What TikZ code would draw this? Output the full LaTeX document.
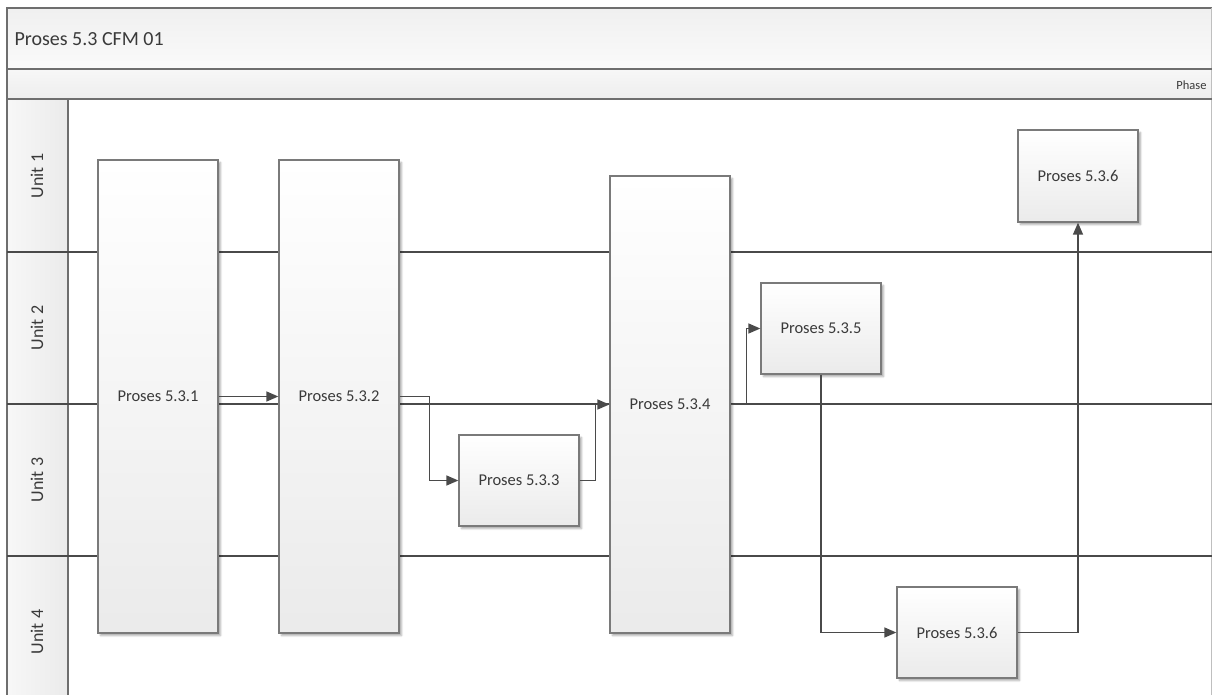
\documentclass[tikz,border=0pt]{standalone}
\usepackage{fontspec}
\setmainfont{Carlito}
\usetikzlibrary{arrows.meta,shadows.blur}
\definecolor{linec}{HTML}{4A4A4A}
\definecolor{framec}{HTML}{6E6E6E}
\definecolor{boxb}{HTML}{7A7A7A}
\definecolor{txt}{HTML}{3A3A3A}
\tikzset{
  procbox/.style={draw=boxb, line width=1.3pt, shading=axis, top color=white, bottom color=black!8,
    minimum width=120pt, inner sep=0pt, font=\fontsize{16.5}{18}\selectfont, text=txt,
    blur shadow={shadow xshift=2.5pt, shadow yshift=-2.5pt, shadow blur steps=4, shadow opacity=35}},
  conn/.style={draw=linec, line width=1.4pt, -{Triangle[length=12pt,width=10pt]}},
  lanelbl/.style={rotate=90, font=\fontsize{18}{20}\selectfont, text=txt},
  sep/.style={draw=linec, line width=1.4pt},
  frame/.style={draw=framec, line width=1.4pt}
}
\begin{document}
\begin{tikzpicture}[x=1pt,y=-1pt]
\useasboundingbox (0,0) rectangle (1212,695);
% bands
\shade[top color=black!6, bottom color=black!2] (7,8) rectangle (1212,69);
\shade[top color=black!3, bottom color=black!7] (7,69) rectangle (1212,99);
\shade[left color=black!3, right color=black!8] (7,99) rectangle (68,695);
% frame lines
\draw[frame] (7,695) -- (7,8) -- (1212,8);
\draw[draw=black!25, line width=0.8pt] (1211.5,8) -- (1211.5,695);
\draw[frame] (7,69) -- (1212,69);
\draw[frame] (7,99) -- (1212,99);
\draw[frame] (68,99) -- (68,695);
% lane separators
\draw[sep] (7,252) -- (1212,252);
\draw[sep] (7,404) -- (1212,404);
\draw[sep] (7,556) -- (1212,556);
% texts
\node[anchor=west, font=\fontsize{20}{22}\selectfont, text=txt] (title) at (11,39) {Proses 5.3 CFM 01};
\node[anchor=east, font=\fontsize{12.5}{14}\selectfont, text=txt] (phase) at (1210,85) {Phase};
\node[lanelbl] (u1) at (37,176) {Unit 1};
\node[lanelbl] (u2) at (37,328) {Unit 2};
\node[lanelbl] (u3) at (37,480) {Unit 3};
\node[lanelbl] (u4) at (37,632) {Unit 4};
% boxes
\node[procbox, minimum height=473pt] (p1) at (158,396.5) {Proses 5.3.1};
\node[procbox, minimum height=473pt] (p2) at (339,396.5) {Proses 5.3.2};
\node[procbox, minimum height=91pt] (p3) at (519,480.5) {Proses 5.3.3};
\node[procbox, minimum height=457pt] (p4) at (670,404.5) {Proses 5.3.4};
\node[procbox, minimum height=91pt] (p5) at (821,328.5) {Proses 5.3.5};
\node[procbox, minimum height=92pt] (p7) at (1078,176) {Proses 5.3.6};
\node[procbox, minimum height=91pt] (p6) at (957,632.5) {Proses 5.3.6};
% connectors
\draw[conn] (p1.east) -- (p2.west);
\draw[conn] (p2.east) -- ++(30,0) |- (p3.west);
\draw[conn] (p3.east) -- ++(16,0) |- (p4.west);
\draw[conn] (p4.east) -- ++(16,0) |- (p5.west);
\draw[conn] (p5.south) |- (p6.west);
\draw[conn] (p6.east) -| (p7.south);
\end{tikzpicture}
\end{document}
